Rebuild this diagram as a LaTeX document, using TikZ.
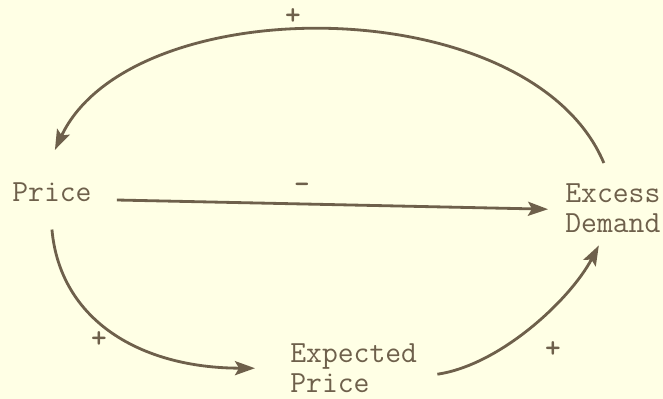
\documentclass[tikz,border=0pt]{standalone}
\usetikzlibrary{arrows.meta}
\definecolor{paper}{HTML}{FFFFE5}
\definecolor{ink}{HTML}{6E604B}
\begin{document}
\begin{tikzpicture}[
      x=0.02cm, y=-0.02cm,
      label/.style={text=ink, inner sep=0pt, font=\ttfamily\fontsize{17.5}{17.5}\selectfont},
      sign/.style={text=ink, inner sep=0pt, font=\ttfamily\bfseries\fontsize{17}{18}\selectfont},
      link/.style={draw=ink, line width=1.6pt, -{Stealth[length=0.4cm, width=0.28cm, inset=0.08cm]}}
    ]
    \fill[paper] (0,0) rectangle (663,399);
    \useasboundingbox (0,0) rectangle (663,399);

    \node[label, anchor=base west] (price) at (12,201) {Price};
    \node[label, anchor=north west, align=left] (excess) at (565,183) {Excess\\Demand};
    \node[label, anchor=north west, align=left] (expected) at (290,343) {Expected\\Price};

    % loop over the top
    \draw[link] ([shift={(-9,-20)}]excess.north) .. controls (530,-12) and (131,-12) .. ([shift={(3,-32)}]price.north);
    % direct link
    \draw[link] ([shift={(25,-1)}]price.base east) -- ([shift={(-17,1)}]excess.west);
    % lower path
    \draw[link] ([shift={(0,28)}]price.south) .. controls (60,320) and (140,368) .. ([shift={(-35,0)}]expected.west);
    \draw[link] ([shift={(20,6)}]expected.east) .. controls (500,365) and (570,300) .. ([shift={(-14,12)}]excess.south);

    \node[sign] (top) at (293,17) {+};
    \node[sign] (mid) at (302,188) {-};
    \node[sign] (low) at (99,340) {+};
    \node[sign] (right) at (553,350) {+};
  \end{tikzpicture}
\end{document}
